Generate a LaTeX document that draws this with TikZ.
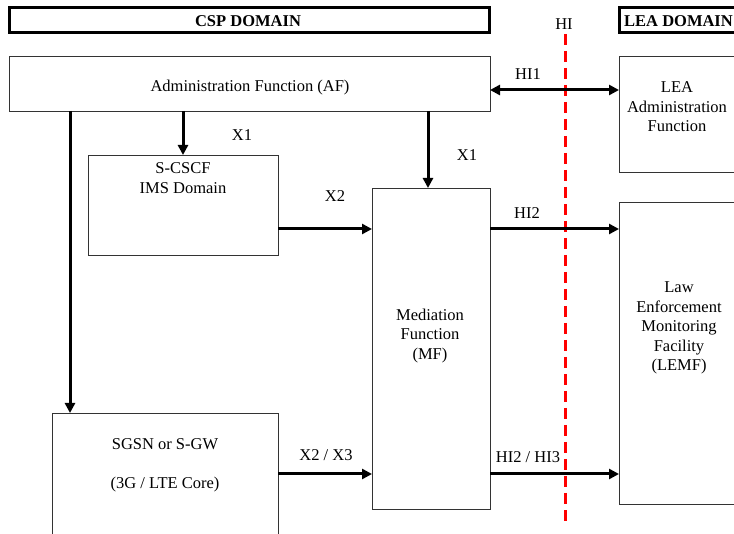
\documentclass[tikz,border=0pt]{standalone}
\usepackage{fontspec}
\setmainfont{Liberation Serif}
\usetikzlibrary{arrows.meta,calc}
\begin{document}
\begin{tikzpicture}[x=1pt,y=-1pt,
  box/.style={draw=black!80,line width=0.9pt,rectangle,inner sep=0pt,outer sep=0pt},
  dombox/.style={draw=black,line width=3pt,rectangle,inner sep=0pt,outer sep=0pt},
  txt/.style={align=center,inner sep=0pt,font=\fontsize{16.5}{19.5}\selectfont},
  btxt/.style={txt,font=\fontsize{16.5}{19.5}\selectfont\bfseries},
  arr/.style={line width=3pt,-{Triangle[length=10pt,width=10pt]}},
  darr/.style={line width=3pt,{Triangle[length=10pt,width=10pt]}-{Triangle[length=10pt,width=10pt]}},
  hiline/.style={red,line width=3pt,dash pattern=on 11pt off 6pt}]
\useasboundingbox (0,0) rectangle (734,534);
\clip (0,0) rectangle (734,534);
% domain headers
\node[dombox,minimum width=480pt,minimum height=25pt] (csp) at (249,20.5) {};
\node[btxt] (csptxt) at (248,21) {CSP DOMAIN};
\node[dombox,minimum width=126pt,minimum height=25pt] (lea) at (682,20.5) {};
\node[btxt,anchor=west] (leatxt) at (624,21) {LEA DOMAIN};
% HI line
\node[txt] (hi) at (564,24) {HI};
\coordinate (hitop) at (565,34);
\coordinate (hibot) at (565,527);
\draw[hiline] (hitop) -- (hibot);
% boxes
\node[box,minimum width=481pt,minimum height=55pt] (af) at (249.5,83.5) {};
\node[txt] (aftxt) at (250,88) {Administration Function (AF)};
\node[box,minimum width=126pt,minimum height=116pt] (leaadm) at (682,114) {};
\node[txt] (leaadmtxt) at (677,107) {LEA\\Administration\\Function};
\node[box,minimum width=190pt,minimum height=100pt] (scscf) at (183,205) {};
\node[txt] (scscftxt) at (183,178) {S-CSCF\\IMS Domain};
\node[box,minimum width=118pt,minimum height=321pt] (mf) at (431,348.5) {};
\node[txt] (mftxt) at (430,336) {Mediation\\Function\\(MF)};
\node[box,minimum width=226pt,minimum height=132pt] (sgsn) at (165,479) {};
\node[txt] (sgsntxt) at (165,465) {SGSN or S-GW\\[19.5pt](3G / LTE Core)};
\node[box,minimum width=126pt,minimum height=302pt] (lemf) at (682,353) {};
\node[txt] (lemftxt) at (679,328) {Law\\Enforcement\\Monitoring\\Facility\\(LEMF)};
% connector helpers
\coordinate (sgin) at ($(sgsn.north west)+(18,0)$);
\coordinate (mfin) at ($(mf.north)+(-3,0)$);
\coordinate (yhi1) at (0,90);
\coordinate (yx2) at (0,229);
\coordinate (yx3) at (0,474);
% connectors
\draw[arr] (af.south -| scscf.north) -- (scscf.north);
\draw[arr] (af.south -| mfin) -- (mfin);
\draw[arr] (af.south -| sgin) -- (sgin);
\draw[darr] (af.east |- yhi1) -- (leaadm.west |- yhi1);
\draw[arr] (scscf.east |- yx2) -- (mf.west |- yx2);
\draw[arr] (sgsn.east |- yx3) -- (mf.west |- yx3);
\draw[arr] (mf.east |- yx2) -- (lemf.west |- yx2);
\draw[arr] (mf.east |- yx3) -- (lemf.west |- yx3);
% labels
\node[txt] (lx1a) at (242,135) {X1};
\node[txt] (lx1b) at (467,155) {X1};
\node[txt] (lx2) at (335,196) {X2};
\node[txt] (lx23) at (326,455) {X2 / X3};
\node[txt] (lhi1) at (528,74) {HI1};
\node[txt] (lhi2) at (527,213) {HI2};
\node[txt] (lhi23) at (528,457) {HI2 / HI3};
\end{tikzpicture}
\end{document}
